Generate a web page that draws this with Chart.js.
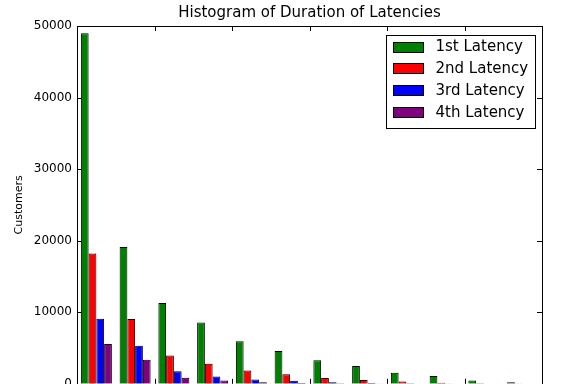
<!DOCTYPE html>
<html>
<head>
<meta charset="utf-8">
<script src="https://cdn.jsdelivr.net/npm/chart.js@4"></script>
<style>
    html, body { margin: 0; padding: 0; background: #fff; overflow: hidden; }
    #wrap { width: 561px; height: 384px; overflow: hidden; }
</style>
</head>
<body>
<div id="wrap"><canvas id="histChart" width="561" height="396"></canvas></div>
<script>
// bins of latency duration (bin start values)
const bins = ["0", "5", "10", "15", "20", "25", "30", "35", "40", "45", "50", "55"];

// customers per bin
const firstLatency  = [49000, 19100, 11300, 8550, 5950, 4600, 3300, 2500, 1550, 1100, 450, 230];
const secondLatency = [18200, 9050, 3950, 2800, 1850, 1350, 800, 520, 330, 150, 70, 30];
const thirdLatency  = [9100, 5300, 1750, 1020, 600, 420, 230, 110, 60, 40, 20, 10];
const fourthLatency = [5550, 3350, 850, 460, 200, 110, 70, 40, 20, 10, 5, 3];

const seriesNames = ["1st Latency", "2nd Latency", "3rd Latency", "4th Latency"];
const seriesColors = ["#008000", "#ff0000", "#0000ff", "#800080"];

const yTicks = [0, 10000, 20000, 30000, 40000, 50000];

const FONT = "'DejaVu Sans', sans-serif";

// frame, inward tick marks and a matplotlib-like legend inside the axes
const framePlugin = {
    id: 'frame',
    afterDatasetsDraw(chart) {
        const c = chart.ctx;
        const a = chart.chartArea;
        const y = chart.scales.y;
        const tick = 5;
        c.save();
        c.strokeStyle = '#000';
        c.lineWidth = 1;

        // y ticks on both sides
        yTicks.forEach(v => {
            const py = Math.round(y.getPixelForValue(v)) + 0.5;
            c.beginPath();
            c.moveTo(a.left, py); c.lineTo(a.left + tick, py);
            c.moveTo(a.right, py); c.lineTo(a.right - tick, py);
            c.stroke();
        });

        // x ticks every second bin, top and bottom
        const step = (a.right - a.left) / bins.length;
        for (let i = 2; i < bins.length; i += 2) {
            const px = Math.round(a.left + i * step) + 0.5;
            c.beginPath();
            c.moveTo(px, a.top); c.lineTo(px, a.top + tick);
            c.moveTo(px, a.bottom); c.lineTo(px, a.bottom - tick);
            c.stroke();
        }

        // axes frame
        c.strokeRect(Math.round(a.left) + 0.5, Math.round(a.top) + 0.5,
            Math.round(a.right - a.left), Math.round(a.bottom - a.top));

        // legend box
        c.font = '15px ' + FONT;
        const texts = chart.data.datasets.map(d => d.label);
        const textW = Math.max(...texts.map(t => c.measureText(t).width));
        const boxW = 7 + 30 + 12 + textW + 7;
        const rowH = 21.9;
        const boxH = texts.length * rowH + 5;
        const bx = Math.round(a.right - 7 - boxW) + 0.5;
        const by = Math.round(a.top + 9) + 0.5;
        c.fillStyle = '#fff';
        c.fillRect(bx, by, boxW, boxH);
        c.strokeRect(bx, by, Math.round(boxW), Math.round(boxH));
        c.textBaseline = 'middle';
        chart.data.datasets.forEach((d, i) => {
            const cy = by + 11 + i * rowH;
            c.fillStyle = d.backgroundColor;
            c.fillRect(bx + 7, Math.round(cy - 5), 30, 10);
            c.strokeRect(bx + 7, Math.round(cy - 5) + 0.5, 30, 10);
            c.fillStyle = '#000';
            c.fillText(d.label, bx + 49, cy + 1);
        });
        c.restore();
    }
};

const allSeries = [firstLatency, secondLatency, thirdLatency, fourthLatency];

const ctx = document.getElementById("histChart").getContext("2d");

let chart = new Chart(ctx, {
    type: 'bar',
    data: {
        labels: bins,
        datasets: allSeries.map((vals, i) => ({
            label: seriesNames[i],
            data: vals,
            backgroundColor: seriesColors[i],
            borderColor: '#000',
            borderWidth: 1,
            categoryPercentage: 0.8,
            barPercentage: 1.0
        }))
    },
    options: {
        responsive: false,
        animation: false,
        layout: { padding: { left: 10, right: 19, top: 0, bottom: 0 } },
        plugins: {
            legend: { display: false },
            tooltip: { enabled: false },
            title: {
                display: true,
                fullSize: false,
                text: 'Histogram of Duration of Latencies',
                color: '#000',
                font: { family: FONT, size: 15, weight: 'normal' },
                padding: { top: 4, bottom: 4 }
            }
        },
        scales: {
            x: {
                grid: { display: false, drawTicks: false },
                border: { display: false },
                ticks: { display: false }
            },
            y: {
                min: 0,
                max: 50000,
                afterFit(scale) { scale.width = 67; },
                afterBuildTicks(scale) { scale.ticks = yTicks.map(v => ({ value: v })); },
                grid: { display: false, drawTicks: false },
                border: { display: false },
                ticks: {
                    color: '#000',
                    padding: 5,
                    font: { family: FONT, size: 12 },
                    callback: v => String(v)
                },
                title: {
                    display: true,
                    text: 'Customers',
                    color: '#000',
                    font: { family: FONT, size: 11 },
                    padding: { top: 3, bottom: 0 }
                }
            }
        }
    },
    plugins: [framePlugin]
});
</script>
</body>
</html>
